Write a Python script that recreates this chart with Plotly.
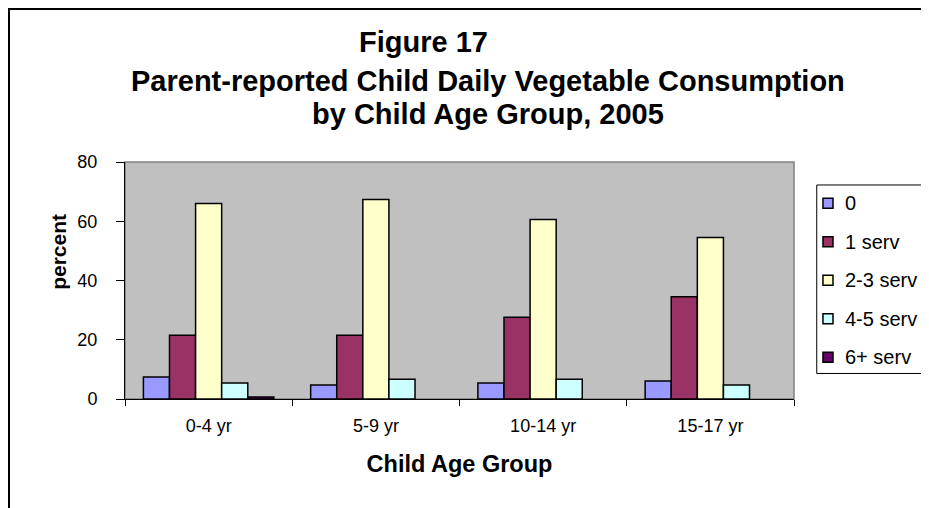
import plotly.graph_objects as go

# Figure 17 - parent-reported daily vegetable servings by child age group, 2005
age_groups = ["0-4 yr", "5-9 yr", "10-14 yr", "15-17 yr"]
serv_0 = [7.4, 4.7, 5.4, 6.1]
serv_1 = [21.5, 21.5, 27.6, 34.5]
serv_2_3 = [66.0, 67.3, 60.6, 54.5]
serv_4_5 = [5.4, 6.7, 6.7, 4.7]
serv_6_plus = [0.7, None, None, None]

series_names = ["0", "1 serv", "2-3 serv", "4-5 serv", "6+ serv"]
series_values = [serv_0, serv_1, serv_2_3, serv_4_5, serv_6_plus]
colors = ["#9999FF", "#993366", "#FFFFCC", "#CCFFFF", "#660066"]

y_ticks = [0, 20, 40, 60, 80]

FONT = "Liberation Sans, Arial, sans-serif"

fig = go.Figure()
for name, vals, color in zip(series_names, series_values, colors):
    fig.add_trace(
        go.Bar(
            x=age_groups,
            y=vals,
            name=name,
            marker=dict(color=color, line=dict(color="black", width=1.5)),
            hovertemplate="%{x}<br>" + name + ": %{y:.1f}%<extra></extra>",
        )
    )

# the page body adds an 8px margin, so margins are trimmed by 8 on top/left
fig.update_layout(
    width=929,
    height=508,
    barmode="group",
    bargap=0.22,
    bargroupgap=0,
    plot_bgcolor="#C0C0C0",
    paper_bgcolor="white",
    font=dict(family=FONT, color="black", size=17),
    margin=dict(l=117, r=143, t=154, b=117, autoexpand=False),
    showlegend=False,
)

fig.update_xaxes(
    showgrid=False,
    showline=True,
    linecolor="black",
    linewidth=1,
    ticks="outside",
    tickson="boundaries",
    ticklen=6,
    tickcolor="black",
    tickfont=dict(size=18),
    ticklabelstandoff=10,
    title=dict(text="<b>Child Age Group</b>", font=dict(size=23.5), standoff=20),
)
fig.update_yaxes(
    range=[0, 80],
    tickvals=y_ticks,
    showgrid=False,
    zeroline=False,
    showline=True,
    linecolor="black",
    linewidth=1,
    ticks="outside",
    ticklen=8,
    tickcolor="black",
    tickfont=dict(size=18),
    ticklabelstandoff=15,
)

# plot area border (grey top/right) and outer chart frame
fig.add_shape(type="rect", xref="paper", yref="paper", x0=0, x1=1, y0=0, y1=1,
              line=dict(color="#808080", width=1.5), layer="below")
fig.add_shape(type="rect", xref="paper", yref="paper", x0=-0.1734, x1=1.3, y0=-0.6, y1=1.6456,
              line=dict(color="black", width=2))

# legend drawn by hand: Excel puts the swatches much closer to the box edge
fig.add_shape(type="rect", xref="paper", yref="paper", x0=1.034, x1=1.2003, y0=0.1076, y1=0.903,
              line=dict(color="black", width=1), fillcolor="white")
legend_top = 0.826
legend_step = 0.1625
for i, (name, color) in enumerate(zip(series_names, colors)):
    yc = legend_top - i * legend_step
    fig.add_shape(type="rect", xref="paper", yref="paper", x0=1.0433, x1=1.0583,
                  y0=yc - 0.021, y1=yc + 0.021, fillcolor=color,
                  line=dict(color="black", width=1.5))
    fig.add_annotation(text=name, xref="paper", yref="paper", x=1.0732, y=yc,
                       xanchor="left", yanchor="middle", showarrow=False, font=dict(size=20))

# y axis title sits above the plot-area middle, as in the original
fig.add_annotation(text="<b>percent</b>", xref="paper", yref="paper", x=-0.12, y=0.622,
                   textangle=-90, showarrow=False, font=dict(size=21))

# title lines
fig.add_annotation(text="<b>Figure 17</b>", xref="paper", yref="paper", x=0.446, y=1.584,
                   showarrow=False, font=dict(size=29))
fig.add_annotation(text="<b>Parent-reported Child Daily Vegetable Consumption</b>", xref="paper",
                   yref="paper", x=0.5426, y=1.416, showarrow=False, font=dict(size=29))
fig.add_annotation(text="<b>by Child Age Group, 2005</b>", xref="paper", yref="paper",
                   x=0.5426, y=1.279, showarrow=False, font=dict(size=29))

fig.write_html("out.html")
